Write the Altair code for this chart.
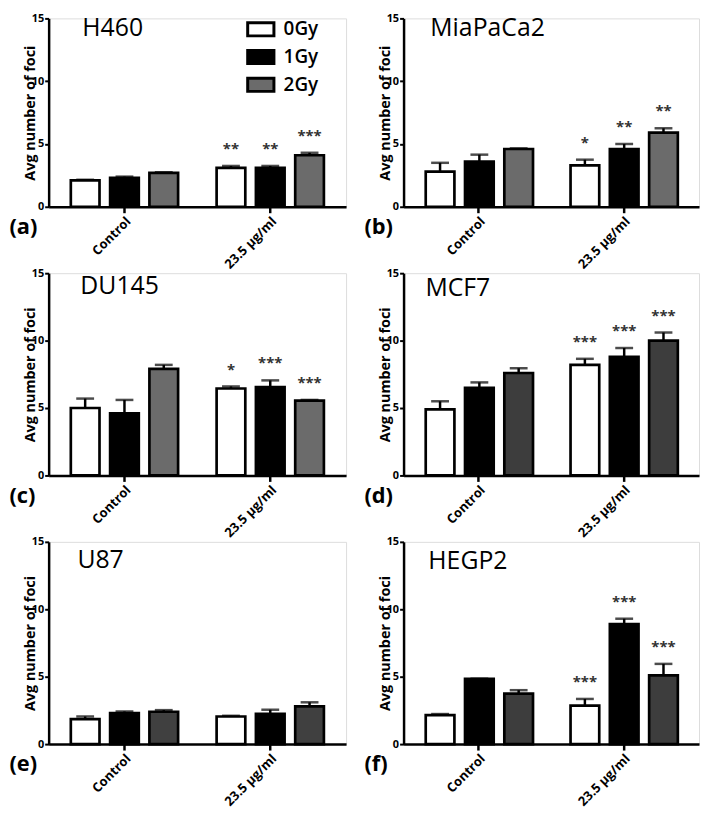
import altair as alt
import pandas as pd

FONT = "Open Sans"

cells = ["H460", "MiaPaCa2", "DU145", "MCF7", "U87", "HEGP2"]
letters = ["(a)", "(b)", "(c)", "(d)", "(e)", "(f)"]
groups = ["Control", "23.5 µg/ml"]
doses = ["0Gy", "1Gy", "2Gy"]

# order: Control 0/1/2 Gy, then 23.5 µg/ml 0/1/2 Gy
h460_mean = [2.1, 2.3, 2.7, 3.1, 3.1, 4.1]
h460_err = [0.05, 0.1, 0.05, 0.15, 0.15, 0.2]
h460_sig = ["", "", "", "**", "**", "***"]

miapaca2_mean = [2.8, 3.6, 4.6, 3.3, 4.6, 5.9]
miapaca2_err = [0.7, 0.55, 0.05, 0.45, 0.4, 0.35]
miapaca2_sig = ["", "", "", "*", "**", "**"]

du145_mean = [5.0, 4.6, 7.9, 6.45, 6.55, 5.55]
du145_err = [0.7, 1.0, 0.3, 0.15, 0.5, 0.05]
du145_sig = ["", "", "", "*", "***", "***"]

mcf7_mean = [4.9, 6.5, 7.6, 8.2, 8.8, 10.0]
mcf7_err = [0.6, 0.4, 0.35, 0.45, 0.65, 0.6]
mcf7_sig = ["", "", "", "***", "***", "***"]

u87_mean = [1.85, 2.3, 2.4, 2.05, 2.25, 2.8]
u87_err = [0.2, 0.12, 0.12, 0.05, 0.3, 0.3]
u87_sig = ["", "", "", "", "", ""]

hegp2_mean = [2.15, 4.85, 3.75, 2.85, 8.9, 5.1]
hegp2_err = [0.08, 0.0, 0.25, 0.5, 0.4, 0.85]
hegp2_sig = ["", "", "", "***", "***", "***"]

means = [h460_mean, miapaca2_mean, du145_mean, mcf7_mean, u87_mean, hegp2_mean]
errs = [h460_err, miapaca2_err, du145_err, mcf7_err, u87_err, hegp2_err]
sigs = [h460_sig, miapaca2_sig, du145_sig, mcf7_sig, u87_sig, hegp2_sig]

# styles
grays = ["#6b6b6b", "#6b6b6b", "#6b6b6b", "#3d3d3d", "#404040", "#3d3d3d"]
widths = [300, 298, 300, 298, 300, 298]
heights = [190, 190, 204, 204, 204, 204]
name_offsets = [(34, 18), (27, 18), (32, 21), (22, 23), (29, 26), (25, 27)]


def panel(i):
    rows = []
    k = 0
    for g in groups:
        for d in doses:
            rows.append({
                "Group": g, "Dose": d, "Mean": means[i][k],
                "Top": means[i][k] + errs[i][k], "Sig": sigs[i][k],
            })
            k += 1
    df = pd.DataFrame(rows)
    base = alt.Chart(df)

    xax = alt.Axis(
        title=letters[i], titleX=-40, titleY=20, titleAlign="left",
        titleBaseline="middle", titleFontSize=22, titleFontWeight="bold",
        titleFont=FONT, titleColor="black",
        labelAngle=-45, labelAlign="right", labelBaseline="top",
        labelFontSize=13, labelFontWeight="bold",
        labelFont=FONT, labelColor="black", labelPadding=2,
        tickSize=6, tickWidth=2.5, tickColor="black",
        domainWidth=2.5, domainColor="black",
    )
    yax = alt.Axis(
        title="Avg number of foci", values=[0, 5, 10, 15],
        titleFontSize=14.5, titleFontWeight="bold", titleFont=FONT,
        titleColor="black", titlePadding=-6,
        labelFontSize=11, labelFontWeight="bold", labelFont=FONT,
        labelColor="black", labelPadding=1,
        tickSize=4, tickWidth=2, tickColor="black",
        domainWidth=2.5, domainColor="black", grid=False,
    )
    xenc = alt.X("Group:N", sort=groups,
                 scale=alt.Scale(paddingInner=0, paddingOuter=0.02), axis=xax)
    xo = alt.XOffset("Dose:N", sort=doses,
                     scale=alt.Scale(paddingInner=0.27, paddingOuter=0.49))
    yscale = alt.Scale(domain=[0, 15], nice=False)

    if i == 0:
        leg = alt.Legend(
            title=None, orient="none", legendX=199, legendY=-4,
            direction="vertical",
            symbolType="M-1,-0.5L1,-0.5L1,0.5L-1,0.5Z", symbolSize=700,
            symbolStrokeWidth=3, symbolStrokeColor="black",
            labelFontSize=19, labelFontWeight=600, labelFont=FONT,
            labelColor="black", labelOffset=8, rowPadding=-3,
        )
    else:
        leg = None

    bars = base.mark_bar(stroke="black", strokeWidth=2.7).encode(
        x=xenc, xOffset=xo,
        y=alt.Y("Mean:Q", scale=yscale, axis=yax),
        fill=alt.Fill("Dose:N", sort=doses,
                      scale=alt.Scale(domain=doses, range=["white", "black", grays[i]]),
                      legend=leg),
    )
    rules = base.mark_rule(color="black", strokeWidth=2.5).encode(
        x=xenc, xOffset=xo,
        y=alt.Y("Mean:Q", scale=yscale, axis=yax), y2="Top:Q",
    )
    caps = base.mark_tick(color="black", size=18, thickness=2.5).encode(
        x=xenc, xOffset=xo, y=alt.Y("Top:Q", scale=yscale, axis=yax),
    )
    stars = base.mark_text(
        font=FONT, fontSize=15, fontWeight="bold", color="#333333",
        baseline="alphabetic", dy=-12,
    ).encode(
        x=xenc, xOffset=xo, y=alt.Y("Top:Q", scale=yscale, axis=yax),
        text="Sig:N",
    )
    dx, dy = name_offsets[i]
    name = alt.Chart(pd.DataFrame({"Name": [cells[i]]})).mark_text(
        font=FONT, fontSize=25, align="left", baseline="alphabetic", color="black",
    ).encode(x=alt.value(dx), y=alt.value(dy), text="Name:N")

    return alt.layer(bars, rules, caps, stars, name).properties(
        width=widths[i], height=heights[i],
    )


chart = alt.concat(
    *[panel(i) for i in range(6)],
    columns=2,
    spacing=alt.RowColnumber(row=67, column=58),
    bounds="flush",
).resolve_scale(fill="independent").properties(
    padding=0,
).configure_view(stroke=None).configure(background="white")

chart.save("out.html", embed_options={"renderer": "svg", "actions": False})
